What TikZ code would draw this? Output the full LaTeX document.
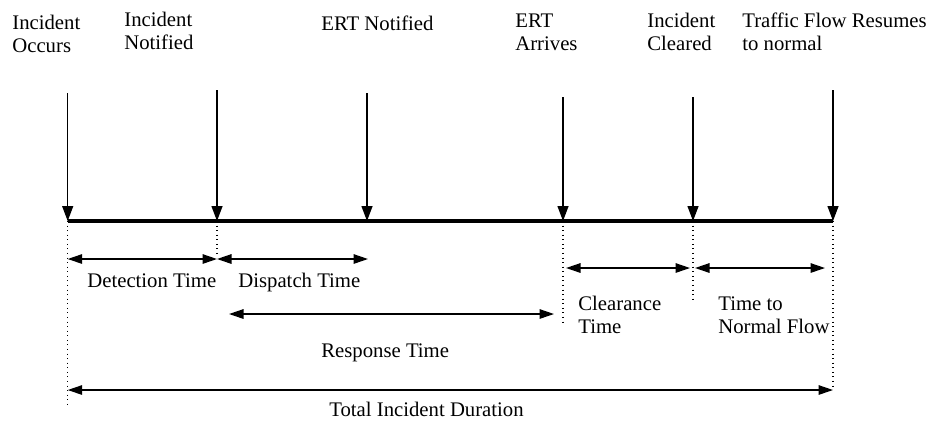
\documentclass[tikz,border=0pt]{standalone}
\usepackage{fontspec}
\setmainfont{Liberation Serif}
\usetikzlibrary{arrows.meta}

\tikzset{
  lbl/.style={anchor=base west, inner sep=0pt, align=left,
    font=\fontsize{11.8}{13}\selectfont},
  drop/.style={line width=0.75pt, -{Triangle[length=3mm,width=2.2mm]}},
  span/.style={line width=0.8pt,
    {Triangle[length=2.9mm,width=1.9mm]}-{Triangle[length=2.9mm,width=1.9mm]}},
  guide/.style={dotted, line width=0.6pt},
}

\begin{document}
\begin{tikzpicture}[x=0.2mm,y=-0.2mm]
  \useasboundingbox (0,0) rectangle (927,420);

  % events on the time line
  \coordinate (occ) at (67.7,221);
  \coordinate (notif) at (217,221);
  \coordinate (ertnot) at (367,221);
  \coordinate (ertarr) at (563,221);
  \coordinate (clear) at (693,221);
  \coordinate (resume) at (833,221);

  % tops of the drop arrows
  \coordinate (occ top) at (67.7,93);
  \coordinate (notif top) at (217,90);
  \coordinate (ertnot top) at (367,93);
  \coordinate (ertarr top) at (563,97);
  \coordinate (clear top) at (693,97);
  \coordinate (resume top) at (833,90);

  % rows of the spans
  \coordinate (row1) at (0,259);
  \coordinate (row2) at (0,268);
  \coordinate (row3) at (0,314);
  \coordinate (row4) at (0,390);

  \draw[line width=2.2pt] (occ) -- (resume);
  \foreach \e in {occ,notif,ertnot,ertarr,clear,resume}
    \draw[drop] (\e\space top) -- (\e);

  % dotted guides
  \draw[guide] (occ) -- (occ |- 0,405);
  \draw[guide] (notif) -- (notif |- 0,257);
  \draw[guide] (ertarr) -- (ertarr |- 0,322);
  \draw[guide] (clear) -- (clear |- 0,302);
  \draw[guide] (resume) -- (resume |- row4);

  % base = last line
  \node[lbl] (occlbl) at (12,52) {Incident\\Occurs};
  \node[lbl] (notiflbl) at (124,49) {Incident\\Notified};
  \node[lbl] (ertnotlbl) at (321,30) {ERT Notified};
  \node[lbl] (ertarrlbl) at (515,50) {ERT\\Arrives};
  \node[lbl] (clearlbl) at (647,50) {Incident\\Cleared};
  \node[lbl] (resumelbl) at (742,50) {Traffic Flow Resumes\\to normal};

  % durations
  \draw[span] (occ |- row1) -- (notif |- row1);
  \draw[span] (notif |- row1) -- (368,259);
  \draw[span] (229,314) -- (554,314);
  \draw[span] (566,268) -- (690,268);
  \draw[span] (695,268) -- (825,268);
  \draw[span] (occ |- row4) -- (resume |- row4);

  \node[lbl] (detlbl) at (87,287) {Detection Time};
  \node[lbl] (displbl) at (238,287) {Dispatch Time};
  \node[lbl] (resplbl) at (321,357) {Response Time};
  \node[lbl] (clrlbl) at (578,333) {Clearance\\Time};
  \node[lbl] (normlbl) at (718,333) {Time to\\Normal Flow};
  \node[lbl] (totlbl) at (329,416) {Total Incident Duration};
\end{tikzpicture}
\end{document}
